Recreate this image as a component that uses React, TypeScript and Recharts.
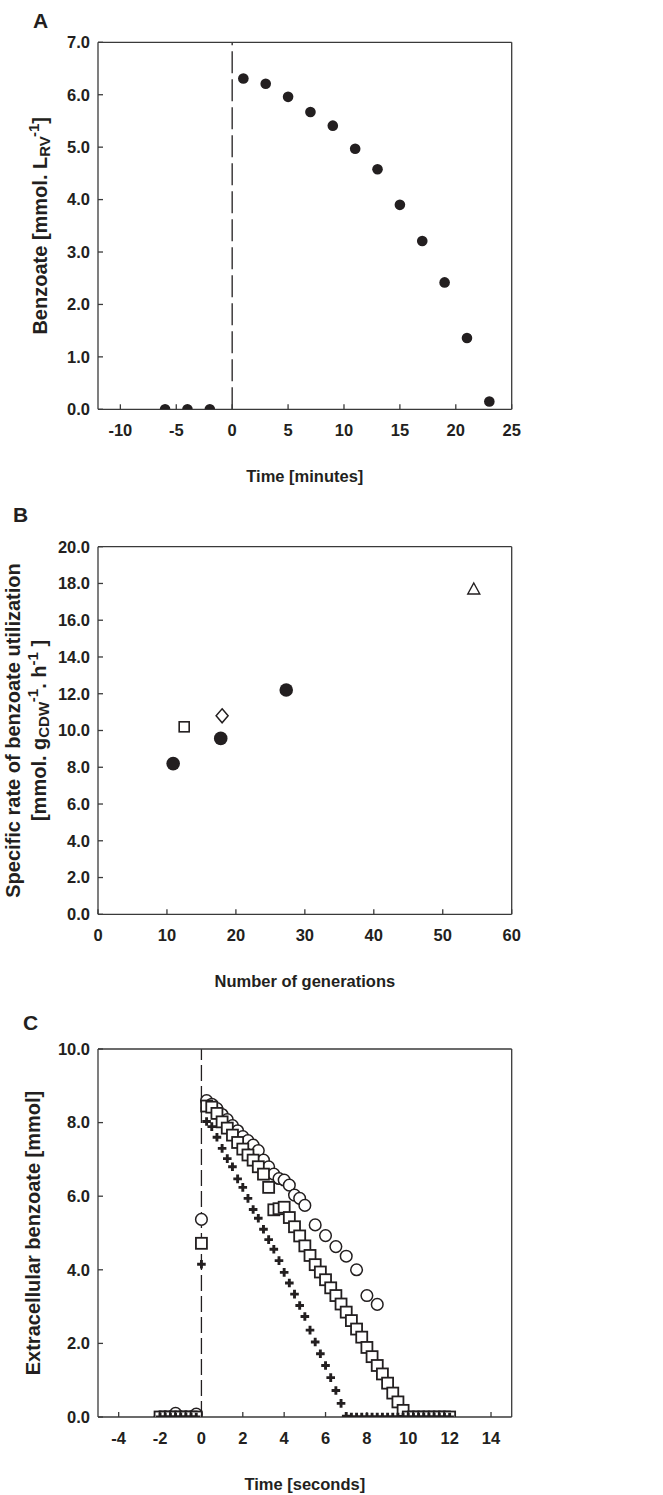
import React from "react";
import { ReferenceLine, Scatter, ScatterChart, XAxis, YAxis } from "recharts";

const INK = "#231f20";
const AXIS = "#3a3a3a";
const FONT = '"Liberation Sans", Arial, Helvetica, sans-serif';

// Panel A: benzoate in the reactor around the pulse
const aTime = [-6, -4, -2, 1, 3, 5, 7, 9, 11, 13, 15, 17, 19, 21, 23];
const aBenzoate = [0, 0, 0, 6.31, 6.21, 5.96, 5.67, 5.41, 4.97, 4.58, 3.9, 3.21, 2.42, 1.36, 0.15];
const aXTicks = [-10, -5, 0, 5, 10, 15, 20, 25];
const aYTicks = [0, 1, 2, 3, 4, 5, 6, 7];

// Panel B: specific rate vs number of generations
const bCircleGen = [10.9, 17.8, 27.3];
const bCircleRate = [8.2, 9.57, 12.2];
const bSquareGen = [12.5];
const bSquareRate = [10.2];
const bDiamondGen = [18.0];
const bDiamondRate = [10.8];
const bTriangleGen = [54.5];
const bTriangleRate = [17.7];
const bXTicks = [0, 10, 20, 30, 40, 50, 60];
const bYTicks = [0, 2, 4, 6, 8, 10, 12, 14, 16, 18, 20];

// Panel C: extracellular benzoate, seconds scale
const cCircleTime = [
  -2, -1.75, -1.5, -1.25, -1, -0.75, -0.5, -0.25, 0, 0.25, 0.5, 0.75, 1, 1.25, 1.5, 1.75, 2, 2.25, 2.5,
  2.75, 3, 3.25, 3.5, 3.75, 4, 4.25, 4.5, 4.75, 5, 5.5, 6, 6.5, 7, 7.5, 8, 8.5,
];
const cCircleValue = [
  0, 0, 0, 0.1, 0, 0, 0, 0.08, 5.37, 8.6, 8.5, 8.38, 8.22, 8.08, 7.92, 7.78, 7.62, 7.51, 7.39,
  7.24, 6.98, 6.8, 6.6, 6.48, 6.44, 6.3, 6.03, 5.94, 5.75, 5.22, 4.93, 4.63, 4.37, 4.0, 3.3, 3.06,
];
const cSquareTime = [
  -2, -1.75, -1.5, -1.25, -1, -0.75, -0.5, -0.25, 0, 0.25, 0.5, 0.75, 1, 1.25, 1.5, 1.75, 2, 2.25, 2.5,
  2.75, 3, 3.25, 3.5, 3.75, 4, 4.25, 4.5, 4.75, 5, 5.25, 5.5, 5.75, 6, 6.25, 6.5, 6.75, 7, 7.25, 7.5,
  7.75, 8, 8.25, 8.5, 8.75, 9, 9.25, 9.5, 9.75, 10, 10.25, 10.5, 10.75, 11, 11.25, 11.5, 11.75, 12,
];
const cSquareValue = [
  0, 0, 0, 0, 0, 0, 0, 0, 4.72, 8.45, 8.42, 8.25, 8.02, 7.85, 7.66, 7.46, 7.28, 7.12, 6.98,
  6.8, 6.6, 6.24, 5.63, 5.66, 5.7, 5.42, 5.17, 4.92, 4.65, 4.39, 4.14, 3.94, 3.73, 3.51, 3.3, 3.07, 2.85, 2.62, 2.39,
  2.17, 1.89, 1.64, 1.4, 1.17, 0.92, 0.65, 0.41, 0.18, 0, 0, 0, 0, 0, 0, 0, 0, 0,
];
const cPlusTime = [
  -2, -1.75, -1.5, -1.25, -1, -0.75, -0.5, -0.25, 0, 0.25, 0.5, 0.75, 1, 1.25, 1.5, 1.75, 2, 2.25, 2.5,
  2.75, 3, 3.25, 3.5, 3.75, 4, 4.25, 4.5, 4.75, 5, 5.25, 5.5, 5.75, 6, 6.25, 6.5, 6.75, 7, 7.25, 7.5,
  7.75, 8, 8.25, 8.5, 8.75, 9, 9.25, 9.5, 9.75, 10, 10.25, 10.5, 10.75, 11, 11.25, 11.5, 11.75, 12,
];
const cPlusValue = [
  0, 0, 0, 0, 0, 0, 0, 0, 4.15, 8.03, 7.89, 7.6, 7.3, 7.02, 6.8, 6.47, 6.24, 5.94, 5.64,
  5.4, 5.1, 4.82, 4.56, 4.25, 3.93, 3.64, 3.34, 3.03, 2.73, 2.36, 2.04, 1.72, 1.4, 1.07, 0.72, 0.37, 0.02, 0, 0,
  0, 0, 0, 0, 0, 0, 0, 0, 0, 0, 0, 0, 0, 0, 0, 0, 0, 0,
];
const cXTicks = [-4, -2, 0, 2, 4, 6, 8, 10, 12, 14];
const cYTicks = [0, 2, 4, 6, 8, 10];

const pairs = (xs: number[], ys: number[]) => xs.map((x, i) => ({ x, y: ys[i] }));

// marker shapes
const filledDot = (r: number) => (p: any) => <circle cx={p.cx} cy={p.cy} r={r} fill={INK} />;
const openDot = (r: number) => (p: any) => (
  <circle cx={p.cx} cy={p.cy} r={r} fill="#fff" stroke={INK} strokeWidth={1.5} />
);
const openSquare = (s: number, w: number) => (p: any) => (
  <rect x={p.cx - s / 2} y={p.cy - s / 2} width={s} height={s} fill="#fff" stroke={INK} strokeWidth={w} />
);
const openDiamond = (hw: number, hh: number) => (p: any) => (
  <polygon
    points={`${p.cx},${p.cy - hh} ${p.cx + hw},${p.cy} ${p.cx},${p.cy + hh} ${p.cx - hw},${p.cy}`}
    fill="#fff"
    stroke={INK}
    strokeWidth={1.5}
  />
);
const openTriangle = (hw: number, h: number) => (p: any) => (
  <polygon
    points={`${p.cx},${p.cy - h / 2 - 1} ${p.cx + hw},${p.cy + h / 2} ${p.cx - hw},${p.cy + h / 2}`}
    fill="#fff"
    stroke={INK}
    strokeWidth={1.4}
  />
);
const plusMark = (a: number) => (p: any) => (
  <path
    d={`M${p.cx - a},${p.cy}H${p.cx + a}M${p.cx},${p.cy - a}V${p.cy + a}`}
    stroke={INK}
    strokeWidth={2.9}
    fill="none"
  />
);

const tickStyle = { fill: INK, fontSize: 16.5, fontWeight: 700 };
const lineStyle = { stroke: AXIS, strokeWidth: 1.3 };

const xTitle = (text: string) => (props: any) => {
  const vb = props.viewBox;
  return (
    <text x={vb.x + vb.width / 2} y={vb.y + 73} textAnchor="middle" fontSize={16.5} fontWeight={700} fill={INK}>
      {text}
    </text>
  );
};

const yTitleA = (props: any) => {
  const vb = props.viewBox;
  return (
    <text
      transform={`translate(47,${vb.y + vb.height / 2}) rotate(-90)`}
      textAnchor="middle"
      fontSize={20}
      fontWeight={700}
      fill={INK}
    >
      Benzoate [mmol. L
      <tspan fontSize={15} dy={3}>RV</tspan>
      <tspan fontSize={15} dy={-11}>-1</tspan>
      <tspan dy={8}>]</tspan>
    </text>
  );
};

const yTitleB = (props: any) => {
  const vb = props.viewBox;
  const cy = vb.y + vb.height / 2;
  return (
    <g fontWeight={700} fill={INK}>
      <text transform={`translate(19.5,${cy}) rotate(-90)`} textAnchor="middle" fontSize={20}>
        Specific rate of benzoate utilization
      </text>
      <text transform={`translate(46,${cy}) rotate(-90)`} textAnchor="middle" fontSize={20}>
        [mmol. g
        <tspan fontSize={15} dy={3}>CDW</tspan>
        <tspan fontSize={15} dy={-11}>-1</tspan>
        <tspan dy={8}>. h</tspan>
        <tspan fontSize={15} dy={-8}>-1</tspan>
        <tspan dy={8}> ]</tspan>
      </text>
    </g>
  );
};

const yTitleC = (props: any) => {
  const vb = props.viewBox;
  return (
    <text
      transform={`translate(40,${vb.y + vb.height / 2}) rotate(-90)`}
      textAnchor="middle"
      fontSize={20}
      fontWeight={700}
      fill={INK}
    >
      Extracellular benzoate [mmol]
    </text>
  );
};

// top and right axes close the box, ticks pointing inward
const frame = (xDomain: number[], xTicks: number[], yDomain: number[], yTicks: number[]) => [
  <XAxis
    key="top"
    xAxisId="top"
    orientation="top"
    type="number"
    domain={xDomain}
    ticks={xTicks}
    tick={false}
    tickSize={-5}
    height={1}
    allowDataOverflow
    axisLine={lineStyle}
    tickLine={lineStyle}
  />,
  <YAxis
    key="right"
    yAxisId="right"
    orientation="right"
    type="number"
    domain={yDomain}
    ticks={yTicks}
    tick={false}
    tickSize={-5}
    width={1}
    allowDataOverflow
    axisLine={lineStyle}
    tickLine={lineStyle}
  />,
];

const letterStyle = (left: number, top: number): React.CSSProperties => ({
  position: "absolute",
  left,
  top,
  fontSize: 21,
  fontWeight: 700,
  lineHeight: 1,
  color: INK,
});

export default function App() {
  return (
    <div
      style={{
        position: "absolute",
        left: 0,
        top: 0,
        width: 663,
        height: 1495,
        background: "#fff",
        fontFamily: FONT,
      }}
    >
      <div style={letterStyle(33, 10)}>A</div>
      <div style={letterStyle(13, 504)}>B</div>
      <div style={letterStyle(23, 1012)}>C</div>

      <div style={{ position: "absolute", left: 0, top: 0 }}>
        <ScatterChart width={663} height={500} margin={{ top: 41.3, right: 150.3, bottom: 60.7, left: 38 }}>
          <XAxis
            type="number"
            dataKey="x"
            domain={[-12, 25]}
            ticks={aXTicks}
            interval={0}
            allowDataOverflow
            tick={tickStyle}
            tickSize={-5}
            tickMargin={20}
            axisLine={lineStyle}
            tickLine={lineStyle}
            label={{ content: xTitle("Time [minutes]") }}
          />
          <YAxis
            type="number"
            dataKey="y"
            domain={[0, 7]}
            ticks={aYTicks}
            interval={0}
            allowDataOverflow
            width={60}
            tick={tickStyle}
            tickSize={-5}
            tickMargin={13}
            tickFormatter={(v: number) => v.toFixed(1)}
            axisLine={lineStyle}
            tickLine={lineStyle}
            label={{ content: yTitleA }}
          />
          {frame([-12, 25], aXTicks, [0, 7], aYTicks)}
          <ReferenceLine x={0} stroke={INK} strokeWidth={1.3} strokeDasharray="22 6" />
          <Scatter data={pairs(aTime, aBenzoate)} shape={filledDot(5.3)} isAnimationActive={false} />
        </ScatterChart>
      </div>

      <div style={{ position: "absolute", left: 0, top: 500 }}>
        <ScatterChart width={663} height={500} margin={{ top: 45.7, right: 150.3, bottom: 55.7, left: 38 }}>
          <XAxis
            type="number"
            dataKey="x"
            domain={[0, 60]}
            ticks={bXTicks}
            interval={0}
            allowDataOverflow
            tick={tickStyle}
            tickSize={-5}
            tickMargin={20}
            axisLine={lineStyle}
            tickLine={lineStyle}
            label={{ content: xTitle("Number of generations") }}
          />
          <YAxis
            type="number"
            dataKey="y"
            domain={[0, 20]}
            ticks={bYTicks}
            interval={0}
            allowDataOverflow
            width={60}
            tick={tickStyle}
            tickSize={-5}
            tickMargin={13}
            tickFormatter={(v: number) => v.toFixed(1)}
            axisLine={lineStyle}
            tickLine={lineStyle}
            label={{ content: yTitleB }}
          />
          {frame([0, 60], bXTicks, [0, 20], bYTicks)}
          <Scatter data={pairs(bCircleGen, bCircleRate)} shape={filledDot(6.8)} isAnimationActive={false} />
          <Scatter data={pairs(bSquareGen, bSquareRate)} shape={openSquare(10, 1.6)} isAnimationActive={false} />
          <Scatter data={pairs(bDiamondGen, bDiamondRate)} shape={openDiamond(6, 7)} isAnimationActive={false} />
          <Scatter data={pairs(bTriangleGen, bTriangleRate)} shape={openTriangle(6, 10)} isAnimationActive={false} />
        </ScatterChart>
      </div>

      <div style={{ position: "absolute", left: 0, top: 1000 }}>
        <ScatterChart width={663} height={495} margin={{ top: 48, right: 150.3, bottom: 48, left: 38 }}>
          <XAxis
            type="number"
            dataKey="x"
            domain={[-5, 15]}
            ticks={cXTicks}
            interval={0}
            allowDataOverflow
            tick={tickStyle}
            tickSize={-5}
            tickMargin={20}
            axisLine={lineStyle}
            tickLine={lineStyle}
            label={{ content: xTitle("Time [seconds]") }}
          />
          <YAxis
            type="number"
            dataKey="y"
            domain={[0, 10]}
            ticks={cYTicks}
            interval={0}
            allowDataOverflow
            width={60}
            tick={tickStyle}
            tickSize={-5}
            tickMargin={13}
            tickFormatter={(v: number) => v.toFixed(1)}
            axisLine={lineStyle}
            tickLine={lineStyle}
            label={{ content: yTitleC }}
          />
          {frame([-5, 15], cXTicks, [0, 10], cYTicks)}
          <ReferenceLine x={0} stroke={INK} strokeWidth={1.3} strokeDasharray="16 5" />
          <Scatter data={pairs(cCircleTime, cCircleValue)} shape={openDot(5.8)} isAnimationActive={false} />
          <Scatter data={pairs(cSquareTime, cSquareValue)} shape={openSquare(11, 1.8)} isAnimationActive={false} />
          <Scatter data={pairs(cPlusTime, cPlusValue)} shape={plusMark(4.3)} isAnimationActive={false} />
        </ScatterChart>
      </div>
    </div>
  );
}
